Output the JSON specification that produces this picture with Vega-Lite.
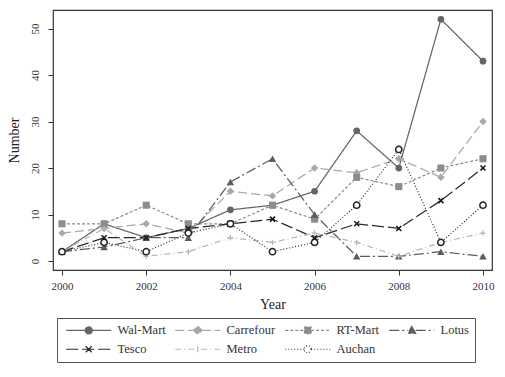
{
  "$schema": "https://vega.github.io/schema/vega-lite/v6.json",
  "width": 439,
  "height": 260,
  "autosize": "none",
  "padding": {"left": 53, "top": 10, "right": 13, "bottom": 107},
  "background": "white",
  "config": {
    "font": "Liberation Serif",
    "view": {"stroke": "#333", "strokeWidth": 1.2},
    "style": {"guide-label": {"font": "Liberation Serif"}, "guide-title": {"font": "Liberation Serif"}},
    "axis": {
      "labelFont": "Liberation Serif",
      "labelFontSize": 11,
      "labelColor": "#333",
      "tickColor": "#333",
      "tickSize": 5,
      "domain": false,
      "grid": false,
      "titleFont": "Liberation Serif",
      "titleFontWeight": "normal",
      "titleFontSize": 14,
      "titleColor": "#222"
    },
    "legend": {
      "labelFont": "Liberation Serif",
      "labelFontSize": 12.5,
      "labelColor": "#333",
      "title": null,
      "orient": "none",
      "legendX": 4,
      "legendY": 308,
      "direction": "horizontal",
      "columns": 4,
      "symbolSize": 36,
      "symbolStrokeWidth": 1.2,
      "symbolOpacity": 1,
      "labelOffset": 42,
      "strokeColor": "#555",
      "padding": 6,
      "rowPadding": 6,
      "columnPadding": 6
    }
  },
  "data": {
    "values": [
      {"Store": "Wal-Mart", "Year": 2000, "Number": 2},
      {"Store": "Wal-Mart", "Year": 2001, "Number": 8},
      {"Store": "Wal-Mart", "Year": 2002, "Number": 5},
      {"Store": "Wal-Mart", "Year": 2003, "Number": 7},
      {"Store": "Wal-Mart", "Year": 2004, "Number": 11},
      {"Store": "Wal-Mart", "Year": 2005, "Number": 12},
      {"Store": "Wal-Mart", "Year": 2006, "Number": 15},
      {"Store": "Wal-Mart", "Year": 2007, "Number": 28},
      {"Store": "Wal-Mart", "Year": 2008, "Number": 20},
      {"Store": "Wal-Mart", "Year": 2009, "Number": 52},
      {"Store": "Wal-Mart", "Year": 2010, "Number": 43},
      {"Store": "Carrefour", "Year": 2000, "Number": 6},
      {"Store": "Carrefour", "Year": 2001, "Number": 7},
      {"Store": "Carrefour", "Year": 2002, "Number": 8},
      {"Store": "Carrefour", "Year": 2003, "Number": 6},
      {"Store": "Carrefour", "Year": 2004, "Number": 15},
      {"Store": "Carrefour", "Year": 2005, "Number": 14},
      {"Store": "Carrefour", "Year": 2006, "Number": 20},
      {"Store": "Carrefour", "Year": 2007, "Number": 19},
      {"Store": "Carrefour", "Year": 2008, "Number": 22},
      {"Store": "Carrefour", "Year": 2009, "Number": 18},
      {"Store": "Carrefour", "Year": 2010, "Number": 30},
      {"Store": "RT-Mart", "Year": 2000, "Number": 8},
      {"Store": "RT-Mart", "Year": 2001, "Number": 8},
      {"Store": "RT-Mart", "Year": 2002, "Number": 12},
      {"Store": "RT-Mart", "Year": 2003, "Number": 8},
      {"Store": "RT-Mart", "Year": 2004, "Number": 8},
      {"Store": "RT-Mart", "Year": 2005, "Number": 12},
      {"Store": "RT-Mart", "Year": 2006, "Number": 9},
      {"Store": "RT-Mart", "Year": 2007, "Number": 18},
      {"Store": "RT-Mart", "Year": 2008, "Number": 16},
      {"Store": "RT-Mart", "Year": 2009, "Number": 20},
      {"Store": "RT-Mart", "Year": 2010, "Number": 22},
      {"Store": "Lotus", "Year": 2000, "Number": 2},
      {"Store": "Lotus", "Year": 2001, "Number": 3},
      {"Store": "Lotus", "Year": 2002, "Number": 5},
      {"Store": "Lotus", "Year": 2003, "Number": 5},
      {"Store": "Lotus", "Year": 2004, "Number": 17},
      {"Store": "Lotus", "Year": 2005, "Number": 22},
      {"Store": "Lotus", "Year": 2006, "Number": 10},
      {"Store": "Lotus", "Year": 2007, "Number": 1},
      {"Store": "Lotus", "Year": 2008, "Number": 1},
      {"Store": "Lotus", "Year": 2009, "Number": 2},
      {"Store": "Lotus", "Year": 2010, "Number": 1},
      {"Store": "Tesco", "Year": 2000, "Number": 2},
      {"Store": "Tesco", "Year": 2001, "Number": 5},
      {"Store": "Tesco", "Year": 2002, "Number": 5},
      {"Store": "Tesco", "Year": 2003, "Number": 7},
      {"Store": "Tesco", "Year": 2004, "Number": 8},
      {"Store": "Tesco", "Year": 2005, "Number": 9},
      {"Store": "Tesco", "Year": 2006, "Number": 5},
      {"Store": "Tesco", "Year": 2007, "Number": 8},
      {"Store": "Tesco", "Year": 2008, "Number": 7},
      {"Store": "Tesco", "Year": 2009, "Number": 13},
      {"Store": "Tesco", "Year": 2010, "Number": 20},
      {"Store": "Metro", "Year": 2000, "Number": 2},
      {"Store": "Metro", "Year": 2001, "Number": 7},
      {"Store": "Metro", "Year": 2002, "Number": 1},
      {"Store": "Metro", "Year": 2003, "Number": 2},
      {"Store": "Metro", "Year": 2004, "Number": 5},
      {"Store": "Metro", "Year": 2005, "Number": 4},
      {"Store": "Metro", "Year": 2006, "Number": 6},
      {"Store": "Metro", "Year": 2007, "Number": 4},
      {"Store": "Metro", "Year": 2008, "Number": 1},
      {"Store": "Metro", "Year": 2009, "Number": 4},
      {"Store": "Metro", "Year": 2010, "Number": 6},
      {"Store": "Auchan", "Year": 2000, "Number": 2},
      {"Store": "Auchan", "Year": 2001, "Number": 4},
      {"Store": "Auchan", "Year": 2002, "Number": 2},
      {"Store": "Auchan", "Year": 2003, "Number": 6},
      {"Store": "Auchan", "Year": 2004, "Number": 8},
      {"Store": "Auchan", "Year": 2005, "Number": 2},
      {"Store": "Auchan", "Year": 2006, "Number": 4},
      {"Store": "Auchan", "Year": 2007, "Number": 12},
      {"Store": "Auchan", "Year": 2008, "Number": 24},
      {"Store": "Auchan", "Year": 2009, "Number": 4},
      {"Store": "Auchan", "Year": 2010, "Number": 12}
    ]
  },
  "encoding": {
    "x": {
      "field": "Year",
      "type": "quantitative",
      "scale": {"domain": [1999.786, 2010.214], "nice": false, "zero": false},
      "axis": {"values": [2000, 2002, 2004, 2006, 2008, 2010], "format": "d", "labelPadding": 5, "title": "Year", "titlePadding": 6}
    },
    "y": {
      "field": "Number",
      "type": "quantitative",
      "scale": {"domain": [-1.94, 54], "nice": false, "zero": false},
      "axis": {"values": [0, 10, 20, 30, 40, 50], "labelAngle": -90, "labelPadding": 8, "title": "Number", "titlePadding": 8}
    }
  },
  "layer": [
    {
      "mark": {"type": "line", "strokeWidth": 1.25},
      "encoding": {
        "stroke": {
          "field": "Store",
          "type": "nominal",
          "scale": {
            "domain": ["Wal-Mart", "Carrefour", "RT-Mart", "Lotus", "Tesco", "Metro", "Auchan"],
            "range": ["#666666", "#a8a8a8", "#8c8c8c", "#5c5c5c", "#2a2a2a", "#b8b8b8", "#333333"]
          }
        },
        "strokeDash": {
          "field": "Store",
          "type": "nominal",
          "scale": {
            "domain": ["Wal-Mart", "Carrefour", "RT-Mart", "Lotus", "Tesco", "Metro", "Auchan"],
            "range": [[1, 0], [9, 4], [3, 2], [10, 3, 2, 3], [12, 4], [6, 3, 1, 3], [1, 2]]
          }
        }
      }
    },
    {
      "transform": [{"filter": "datum.Store === 'Wal-Mart'"}],
      "mark": {"type": "point", "shape": "circle", "filled": true, "opacity": 1, "size": 45, "color": "#666666"}
    },
    {
      "transform": [{"filter": "datum.Store === 'Carrefour'"}],
      "mark": {"type": "point", "shape": "diamond", "filled": true, "opacity": 1, "size": 55, "color": "#a8a8a8"}
    },
    {
      "transform": [{"filter": "datum.Store === 'RT-Mart'"}],
      "mark": {"type": "point", "shape": "square", "filled": true, "opacity": 1, "size": 50, "color": "#8c8c8c"}
    },
    {
      "transform": [{"filter": "datum.Store === 'Lotus'"}],
      "mark": {"type": "point", "shape": "triangle-up", "filled": true, "opacity": 1, "size": 55, "color": "#5c5c5c"}
    },
    {
      "transform": [{"filter": "datum.Store === 'Tesco'"}],
      "mark": {"type": "point", "shape": "M-1,-1L1,1M1,-1L-1,1", "filled": false, "opacity": 1, "size": 25, "strokeWidth": 1.6, "color": "#1a1a1a"}
    },
    {
      "transform": [{"filter": "datum.Store === 'Metro'"}],
      "mark": {"type": "point", "shape": "M-1,0L1,0M0,-1L0,1", "filled": false, "opacity": 1, "size": 30, "strokeWidth": 1.3, "color": "#b8b8b8"}
    },
    {
      "transform": [{"filter": "datum.Store === 'Auchan'"}],
      "mark": {"type": "point", "shape": "circle", "filled": false, "opacity": 1, "size": 40, "strokeWidth": 1.5, "stroke": "#222", "fill": "white"}
    },
    {
      "mark": {"type": "point", "opacity": 0, "filled": true},
      "encoding": {
        "fill": {
          "field": "Store",
          "type": "nominal",
          "scale": {
            "domain": ["Wal-Mart", "Carrefour", "RT-Mart", "Lotus", "Tesco", "Metro", "Auchan"],
            "range": ["#666666", "#a8a8a8", "#8c8c8c", "#5c5c5c", "#2a2a2a", "#b8b8b8", "white"]
          }
        },
        "stroke": {"field": "Store", "type": "nominal"},
        "strokeDash": {"field": "Store", "type": "nominal"},
        "shape": {
          "field": "Store",
          "type": "nominal",
          "scale": {
            "domain": ["Wal-Mart", "Carrefour", "RT-Mart", "Lotus", "Tesco", "Metro", "Auchan"],
            "range": [
              "M-1,0L5.3,0M7.7,0L14,0M7.7,0L7.54,0.6L7.1,1.04L6.5,1.2L5.9,1.04L5.46,0.6L5.3,0L5.46,-0.6L5.9,-1.04L6.5,-1.2L7.1,-1.04L7.54,-0.6Z",
              "M-1,0L5.1,0M7.9,0L14,0M6.5,-1.4L7.9,0L6.5,1.4L5.1,0Z",
              "M-1,0L5.4,0M7.6,0L14,0M5.4,-1.1L7.6,-1.1L7.6,1.1L5.4,1.1Z",
              "M-1,0L5.2,0M7.8,0L14,0M6.5,-1.3L7.8,1L5.2,1Z",
              "M-1,0L14,0M5.5,-1L7.5,1M7.5,-1L5.5,1",
              "M-1,0L14,0M6.5,-1L6.5,1",
              "M-1,0L5.3,0M7.7,0L14,0M7.7,0L7.54,0.6L7.1,1.04L6.5,1.2L5.9,1.04L5.46,0.6L5.3,0L5.46,-0.6L5.9,-1.04L6.5,-1.2L7.1,-1.04L7.54,-0.6Z"
            ]
          },
          "legend": {
            "labelFont": "Liberation Serif",
            "encode": {"labels": {"font": {"value": "Liberation Serif"}}}
          }
        }
      }
    }
  ]
}
